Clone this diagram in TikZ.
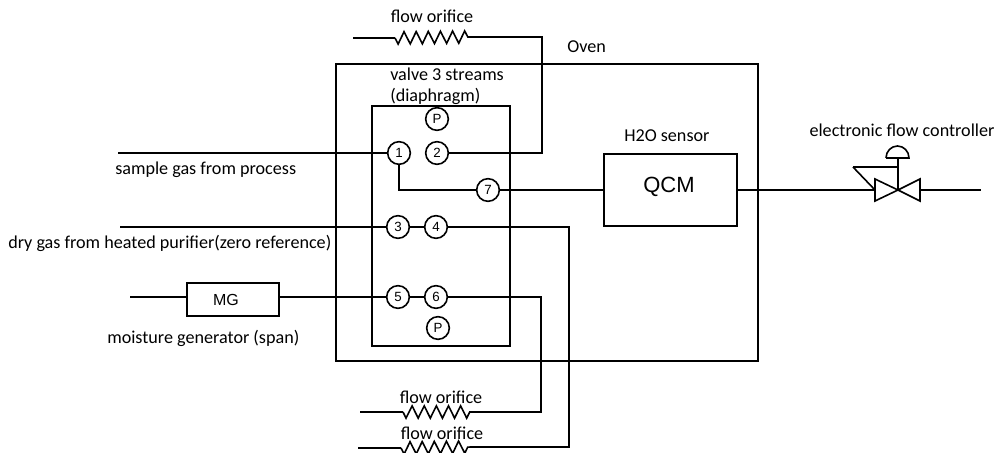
\documentclass[tikz,border=0pt]{standalone}
\usepackage{fontspec}
\setmainfont{Carlito}
\newfontfamily\labelfont{Liberation Sans}
\usetikzlibrary{calc}
\usetikzlibrary{decorations.pathmorphing}
\tikzset{
  wire/.style={line width=1.5pt,line join=miter},
  port/.style={circle,draw,line width=1.2pt,fill=white,minimum size=17pt,inner sep=0pt,font=\labelfont\fontsize{10pt}{11pt}\selectfont},
  unit/.style={rectangle,draw,line width=1.5pt,inner sep=0pt,anchor=north west},
  caption/.style={font=\fontsize{13.6pt}{15pt}\selectfont,inner sep=0pt},
  orifice/.style={line width=1.2pt,decorate,decoration={zigzag,segment length=9.1pt,amplitude=4.6pt,mirror}}
}
\begin{document}
\begin{tikzpicture}[line cap=butt,x=0.75pt,y=-0.75pt]
            \useasboundingbox (0,0) rectangle (997,453);
            % boxes
            \node [unit,minimum width=316.5pt,minimum height=222.8pt] (oven) at (335,63) {};
            \node [unit,minimum width=103.5pt,minimum height=180pt] (valve) at (371,105) {};
            \node [unit,minimum width=99.8pt,minimum height=54pt] (qcm) at (603,153) {};
            \node [font=\labelfont\fontsize{16.5pt}{18pt}\selectfont] at (669,187) {QCM};
            \node [unit,minimum width=69pt,minimum height=24.75pt] (mg) at (186,282) {};
            \node [font=\labelfont\fontsize{12pt}{14pt}\selectfont] at (226,300) {MG};
            % ports
            \node [port] (pa) at (437,119) {P};
            \node [port] (p1) at (399,153) {1};
            \node [port] (p2) at (437,153) {2};
            \node [port] (p7) at (488,190) {7};
            \node [port] (p3) at (398,227) {3};
            \node [port] (p4) at (436,227) {4};
            \node [port] (p5) at (398,297) {5};
            \node [port] (p6) at (436,297) {6};
            \node [port] (pb) at (438,328) {P};
            % free ends
            \coordinate (sample) at (118,153);
            \coordinate (dry) at (120,227);
            \coordinate (span) at (130,297);
            \coordinate (topa) at (353,38);
            \coordinate (topb) at (395,38);
            \coordinate (topc) at (468,37);
            \coordinate (mida) at (360,412);
            \coordinate (midb) at (403,412);
            \coordinate (midc) at (475,412);
            \coordinate (lowa) at (358,448);
            \coordinate (lowb) at (401,448);
            \coordinate (lowc) at (473,447);
            \coordinate (vc) at (898,190);
            \coordinate (vin) at (875,190);
            \coordinate (vout) at (920,190);
            \coordinate (vend) at (981,190);
            \coordinate (vtop) at (898,158);
            \coordinate (vfb) at (853,167);
            % lines
            \draw [wire] (sample) -- (p1);
            \draw [wire] (dry) -- (p3);
            \draw [wire] (span) -- (span -| mg.west);
            \draw [wire] (p5 -| mg.east) -- (p5);
            \draw [wire] (p3) -- (p4);
            \draw [wire] (p5) -- (p6);
            \draw [wire] (p1) |- (p7);
            \draw [wire] (p7) -- (p7 -| qcm.west);
            \draw [wire] (p2) -- (542,153) -- (542,37) -- (topc);
            \draw [wire] (p4) -- (569,227) -- (569,447) -- (lowc);
            \draw [wire] (p6) -- (541,297) -- (541,412) -- (midc);
            \draw [wire] (topa) -- (topb);
            \draw [wire] (mida) -- (midb);
            \draw [wire] (lowa) -- (lowb);
            \draw [orifice] (topb) -- (topc);
            \draw [orifice] (midb) -- (midc);
            \draw [orifice] (lowb) -- (lowc);
            % flow controller
            \draw [wire] (p7 -| qcm.east) -- (vin);
            \draw [wire] (vout) -- (vend);
            \draw [line width=1.2pt] (vc) -- (875,179) -- (875,201) -- cycle;
            \draw [line width=1.2pt] (vc) -- (920,179) -- (920,201) -- cycle;
            \draw [line width=1.2pt] (vc) -- (vtop);
            \draw [line width=1.2pt] (vfb) -- (898,167);
            \draw [line width=1.2pt] (vfb) -- (vin);
            \draw [line width=1.2pt] (886,158) -- (909,158) arc (0:-180:11.5 and 12);
            % labels
            \node [caption] at (432,16) {flow orifice};
            \node [caption,anchor=west] at (567,47) {Oven};
            \node [caption,anchor=west] at (390,74) {valve 3 streams};
            \node [caption,anchor=west] at (390,96) {(diaphragm)};
            \node [caption,anchor=west] at (624,136) {H2O sensor};
            \node [caption] at (902,130) {electronic flow controller};
            \node [caption,anchor=west] at (115,170) {sample gas from process};
            \node [caption,anchor=west] at (8,243) {dry gas from heated purifier(zero reference)};
            \node [caption,anchor=west] at (107,338) {moisture generator (span)};
            \node [caption] at (441,397) {flow orifice};
            \node [caption] at (442,433) {flow orifice};
\end{tikzpicture}
\end{document}
